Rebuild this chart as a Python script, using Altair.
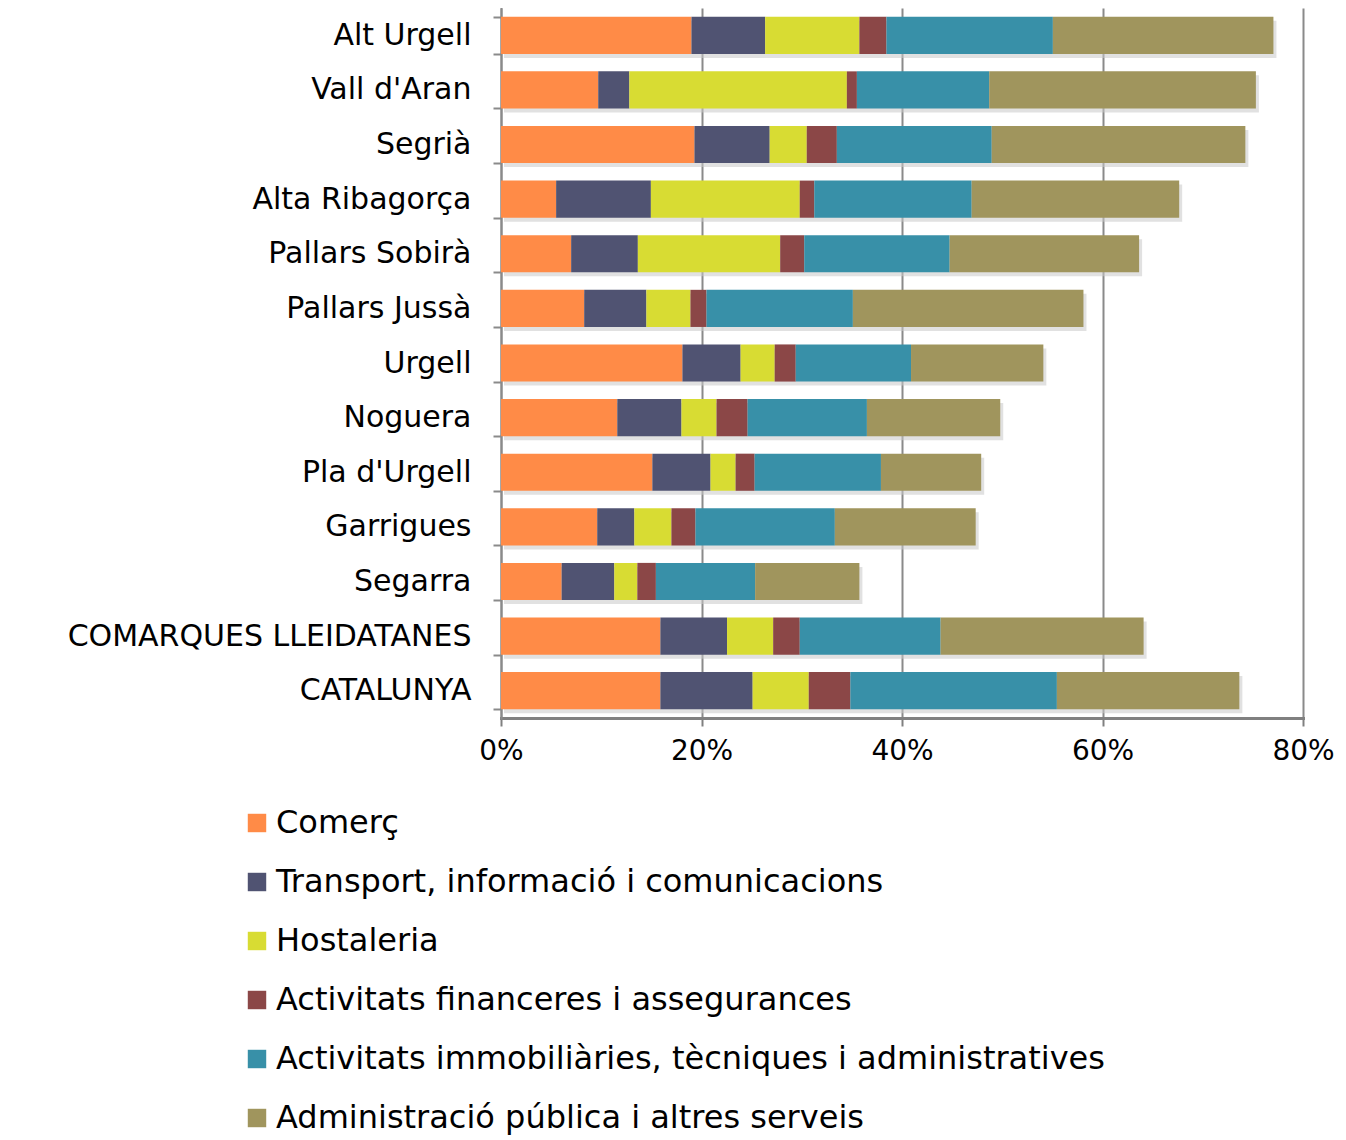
import altair as alt
import pandas as pd

comarques = ["Alt Urgell", "Vall d'Aran", "Segrià", "Alta Ribagorça", "Pallars Sobirà",
             "Pallars Jussà", "Urgell", "Noguera", "Pla d'Urgell", "Garrigues", "Segarra",
             "COMARQUES LLEIDATANES", "CATALUNYA"]

sectors = ["Comerç", "Transport, informació i comunicacions", "Hostaleria",
           "Activitats financeres i assegurances",
           "Activitats immobiliàries, tècniques i administratives",
           "Administració pública i altres serveis"]

colors = ["#FF8B47", "#505372", "#D8DC33", "#8B4747", "#3890A8", "#A0955D"]

comerc = [19.0, 9.7, 19.3, 5.5, 7.0, 8.3, 18.1, 11.6, 15.1, 9.6, 6.05, 15.9, 15.9]
transport = [7.35, 3.1, 7.5, 9.45, 6.65, 6.2, 5.8, 6.4, 5.8, 3.7, 5.25, 6.65, 9.2]
hostaleria = [9.4, 21.7, 3.7, 14.85, 14.2, 4.4, 3.4, 3.5, 2.5, 3.7, 2.3, 4.6, 5.6]
financeres = [2.7, 1.0, 3.0, 1.45, 2.4, 1.6, 2.1, 3.1, 1.9, 2.4, 1.85, 2.65, 4.15]
immobiliaries = [16.6, 13.2, 15.45, 15.7, 14.5, 14.6, 11.5, 11.9, 12.6, 13.9, 9.9, 14.05, 20.6]
administracio = [22.0, 26.6, 25.3, 20.7, 18.9, 23.0, 13.2, 13.3, 10.0, 14.05, 10.4, 20.25, 18.2]

x_ticks = [0, 20, 40, 60, 80]

series = [comerc, transport, hostaleria, financeres, immobiliaries, administracio]
rows = []
for si, (name, vals) in enumerate(zip(sectors, series)):
    for c, v in zip(comarques, vals):
        rows.append({"comarca": c, "sector": name, "ord": si, "value": v})
df = pd.DataFrame(rows)

FONT = "DejaVu Sans"

y_scale = alt.Scale(paddingInner=0.32, paddingOuter=0.16)
x_scale = alt.Scale(domain=[0, 80], nice=False)

shadow = alt.Chart(df).transform_aggregate(
    total="sum(value)", groupby=["comarca"]
).mark_bar(color="#c8c8c8", opacity=0.55, xOffset=3, yOffset=4).encode(
    x=alt.X("total:Q", scale=x_scale),
    y=alt.Y("comarca:N", sort=comarques, scale=y_scale),
)

bars = alt.Chart(df).mark_bar().encode(
    x=alt.X("value:Q", stack="zero", title=None, scale=x_scale,
            axis=alt.Axis(values=x_ticks, labelExpr="datum.value + '%'",
                          labelFontSize=28, labelFont=FONT, labelColor="#000",
                          labelFlush=False, labelOverlap=False, labelBound=False,
                          labelPadding=11, tickSize=8, tickColor="#808080", tickWidth=2,
                          domainColor="#808080", domainWidth=3,
                          grid=True, gridColor="#8a8a8a", gridWidth=2)),
    y=alt.Y("comarca:N", sort=comarques, title=None, scale=y_scale,
            axis=alt.Axis(labelFontSize=30, labelFont=FONT, labelColor="#000",
                          labelLimit=600, labelPadding=22, tickSize=8, tickBand="extent",
                          tickColor="#8a8a8a", tickWidth=2,
                          domainColor="#8a8a8a", domainWidth=2, grid=False)),
    color=alt.Color("sector:N", sort=sectors,
                    scale=alt.Scale(domain=sectors, range=colors),
                    legend=alt.Legend(title=None, orient="none", legendX=-260, legendY=799,
                                      direction="vertical", symbolType="square",
                                      symbolSize=340, symbolStrokeWidth=0,
                                      labelFontSize=32, labelFont=FONT, labelColor="#000",
                                      labelOffset=3, rowPadding=27, labelLimit=1000)),
    order=alt.Order("ord:Q"),
)

chart = alt.layer(shadow, bars).properties(
    width=802, height=710,
    autosize=alt.AutoSizeParams(type="none"),
    padding={"left": 493, "top": 0, "right": 35, "bottom": 430},
).configure_view(stroke=None).configure_axis(domainCap="square")

chart.save("out.html", embed_options={"renderer": "svg", "actions": False})
